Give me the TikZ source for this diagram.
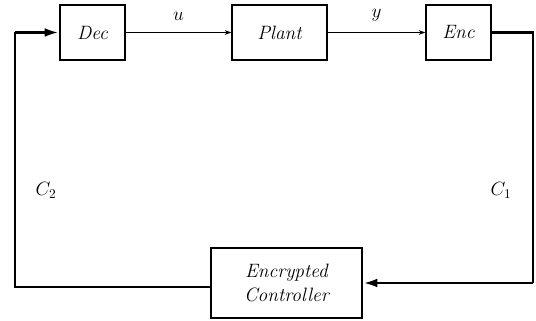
\documentclass[tikz,border=0pt]{standalone}
\usepackage{tikz}
\usepackage{amsmath,amssymb}
\usetikzlibrary{arrows.meta}

\tikzset{
  blk/.style={draw, line width=0.9pt, minimum height=41.25pt, font=\fontsize{14.5}{16}\selectfont\itshape},
  sig/.style={line width=0.7pt, -{Stealth[length=5pt,width=3.5pt]}},
  lbl/.style={font=\fontsize{14.5}{16}\selectfont, above=5pt},
  loop/.style={line width=2.2pt},
  loopar/.style={line width=2.2pt, -{Latex[length=11pt,width=6.5pt]}}
}

\begin{document}
\begin{tikzpicture}[x=0.75pt, y=-0.75pt, auto]
        \useasboundingbox (0,0) rectangle (536,321);

        \node[blk, minimum width=48.75pt] (Dec) at (92.5, 32.5) {Dec};
        \node[blk, minimum width=71.25pt] (Plant) at (279.5, 32.5) {Plant};
        \node[blk, minimum width=48.75pt] (Enc) at (458.5, 32.5) {Enc};
        \node[blk, minimum width=113.25pt, minimum height=52.5pt, align=center,
              font=\fontsize{14.5}{18}\selectfont\itshape] (Ctrl) at (286.5, 283) {Encrypted\\Controller};

        \coordinate (L1) at (15, 32.5);
        \coordinate (L2) at (15, 287);
        \coordinate (R1) at (533, 32.5);
        \coordinate (R2) at (533, 283);

        \draw[sig] (Dec) to node[lbl]{$u$} (Plant);
        \draw[sig] (Plant) to node[lbl]{$y$} (Enc);

        \draw[loop] (Enc.east) -- (R1) -- (R2);
        \draw[loopar] (R2) -- (Ctrl.east);
        \draw[loop] (Ctrl.west |- L2) -- (L2) -- (L1);
        \draw[loopar] (L1) -- (Dec.west);

        \node[font=\fontsize{14.5}{16}\selectfont] (C1) at (501, 190) {$C_1$};
        \node[font=\fontsize{14.5}{16}\selectfont] (C2) at (46, 190) {$C_2$};
      \end{tikzpicture}
\end{document}
